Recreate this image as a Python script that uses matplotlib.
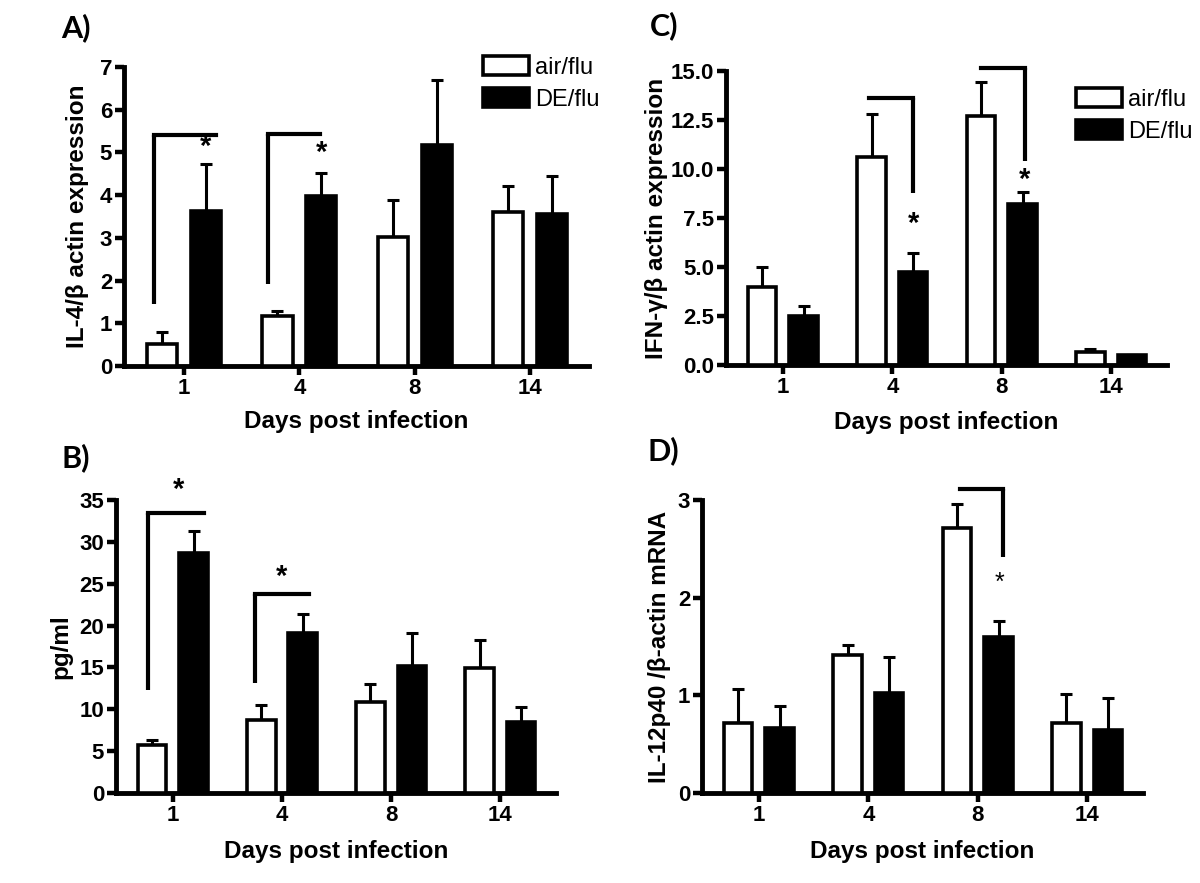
import matplotlib
matplotlib.use('Agg')
import matplotlib.pyplot as plt
from matplotlib.patches import Patch
import numpy as np

# ---- data ----
days = ['1', '4', '8', '14']
groups = ['air/flu', 'DE/flu']

# A) IL-4 / beta actin
il4_air = [0.51, 1.16, 3.02, 3.60]
il4_air_sem = [0.29, 0.13, 0.87, 0.62]
il4_de = [3.62, 3.98, 5.17, 3.57]
il4_de_sem = [1.11, 0.53, 1.52, 0.87]

# B) pg/ml
pg_air = [5.73, 8.72, 10.87, 14.9]
pg_air_sem = [0.6, 1.8, 2.2, 3.4]
pg_de = [28.67, 19.1, 15.2, 8.5]
pg_de_sem = [2.6, 2.3, 3.9, 1.8]

# C) IFN-gamma / beta actin
ifn_air = [3.97, 10.63, 12.71, 0.66]
ifn_air_sem = [1.01, 2.18, 1.73, 0.14]
ifn_de = [2.49, 4.73, 8.19, 0.51]
ifn_de_sem = [0.51, 0.96, 0.66, 0.0]

# D) IL-12p40 / beta actin mRNA
il12_air = [0.72, 1.41, 2.71, 0.72]
il12_air_sem = [0.34, 0.11, 0.25, 0.29]
il12_de = [0.67, 1.02, 1.60, 0.65]
il12_de_sem = [0.22, 0.37, 0.16, 0.32]

# significance brackets: (group, x_left, x_right, y_low, y_top, vertical side, star x, star y)
brk_a = [(0, -0.26, 0.28, 1.45, 5.41, 'left', 0.19, 5.13),
         (1, -0.27, 0.18, 1.91, 5.44, 'left', 0.19, 4.99)]
brk_b = [(0, -0.23, 0.29, 12.3, 33.45, 'left', 0.05, 36.2),
         (1, -0.25, 0.25, 13.1, 23.8, 'left', 0.0, 25.8)]
brk_c = [(1, -0.21, 0.19, 8.8, 13.62, 'right', 0.19, 7.2),
         (2, -0.19, 0.21, 10.42, 15.15, 'right', 0.21, 9.46)]
brk_d = [(2, -0.16, 0.23, 2.42, 3.11, 'right', 0.2, 2.15)]

plt.rcParams['font.family'] = ['Liberation Sans', 'DejaVu Sans']

W = 1200
H = 883


def px_axes(x0, x1, y0, y1):
    return [x0 / W, 1 - y1 / H, (x1 - x0) / W, (y1 - y0) / H]


def panel(ax, air, air_sem, de, de_sem, ytop, yticks, ylabel, fmt, brackets,
          star_bold=True, ylab_x=-0.1, xlab_y=-0.19):
    x = np.arange(len(days))
    off = 0.19
    w = 0.262
    ax.bar(x - off, air, w, color='white', edgecolor='black', linewidth=2.6, zorder=3)
    ax.bar(x + off, de, w, color='black', edgecolor='black', linewidth=2.6, zorder=3)
    ax.errorbar(x - off, air, yerr=[np.zeros(len(air)), air_sem], fmt='none',
                ecolor='black', elinewidth=2.2, capsize=4.5, capthick=2.2, zorder=2)
    ax.errorbar(x + off, de, yerr=[np.zeros(len(de)), de_sem], fmt='none',
                ecolor='black', elinewidth=2.2, capsize=4.5, capthick=2.2, zorder=2)

    for g, xl, xr, ylo, ytp, side, sx, sy in brackets:
        vx = g + xl if side == 'left' else g + xr
        ax.plot([g + xl, g + xr], [ytp, ytp], color='black', lw=3.0,
                solid_capstyle='projecting', clip_on=False)
        ax.plot([vx, vx], [ylo, ytp], color='black', lw=3.0,
                solid_capstyle='butt', clip_on=False)
        ax.text(g + sx, sy, '*', ha='center', va='center', clip_on=False,
                fontsize=21 if star_bold else 18,
                fontweight='bold' if star_bold else 'normal')

    ax.set_xlim(-0.52, len(days) - 1 + 0.51)
    ax.set_ylim(0, ytop)
    ax.set_xticks(x)
    ax.set_xticklabels(days)
    ax.set_yticks(yticks)
    ax.set_yticklabels([fmt.format(v) for v in yticks])
    for s in ['top', 'right']:
        ax.spines[s].set_visible(False)
    for s in ['left', 'bottom']:
        ax.spines[s].set_linewidth(3.5)
    ax.tick_params(length=6.5, width=3.2, labelsize=16, pad=2)
    for lab in ax.get_xticklabels() + ax.get_yticklabels():
        lab.set_fontweight('bold')
    ax.set_xlabel('Days post infection', fontsize=17.5, fontweight='bold', va='center')
    ax.xaxis.set_label_coords(0.5, xlab_y)
    ax.set_ylabel(ylabel, fontsize=17.5, fontweight='bold', va='center')
    ax.yaxis.set_label_coords(ylab_x, 0.5)


fig = plt.figure(figsize=(12, 8.83), dpi=100)

axA = fig.add_axes(px_axes(124, 589, 67, 366))
panel(axA, il4_air, il4_air_sem, il4_de, il4_de_sem, 7, range(0, 8),
      'IL-4/β actin expression', '{:d}', brk_a, ylab_x=-0.1, xlab_y=-0.187)

axC = fig.add_axes(px_axes(726, 1167, 71, 365))
panel(axC, ifn_air, ifn_air_sem, ifn_de, ifn_de_sem, 15, np.arange(0, 15.1, 2.5),
      'IFN-γ/β actin expression', '{:.1f}', brk_c, ylab_x=-0.157, xlab_y=-0.197)

axB = fig.add_axes(px_axes(116, 556, 500, 793))
panel(axB, pg_air, pg_air_sem, pg_de, pg_de_sem, 35, range(0, 36, 5),
      'pg/ml', '{:d}', brk_b, ylab_x=-0.125, xlab_y=-0.201)

axD = fig.add_axes(px_axes(702, 1143, 500, 793))
panel(axD, il12_air, il12_air_sem, il12_de, il12_de_sem, 3, range(0, 4),
      'IL-12p40 /β-actin mRNA', '{:d}', brk_d, star_bold=False,
      ylab_x=-0.097, xlab_y=-0.201)

handles = [Patch(facecolor='white', edgecolor='black', linewidth=2.6),
           Patch(facecolor='black', edgecolor='black', linewidth=2.6)]
for ax, lx, ly in [(axA, 483, 56), (axC, 1076, 88)]:
    ax.legend(handles, groups, loc='upper left', bbox_to_anchor=(lx / W, 1 - ly / H),
              bbox_transform=fig.transFigure, frameon=False, fontsize=17,
              handlelength=1.95, handleheight=0.85, labelspacing=0.4,
              handletextpad=0.25, borderpad=0, borderaxespad=0)

for lab, fx, fy in [('A)', 61, 28), ('C)', 650, 26), ('B)', 62, 458), ('D)', 648, 451)]:
    fig.text(fx / W, 1 - fy / H, lab, fontsize=22, fontweight='bold',
             family=['Lato', 'DejaVu Sans'], ha='left', va='center')

fig.savefig('out.png', dpi=100)
